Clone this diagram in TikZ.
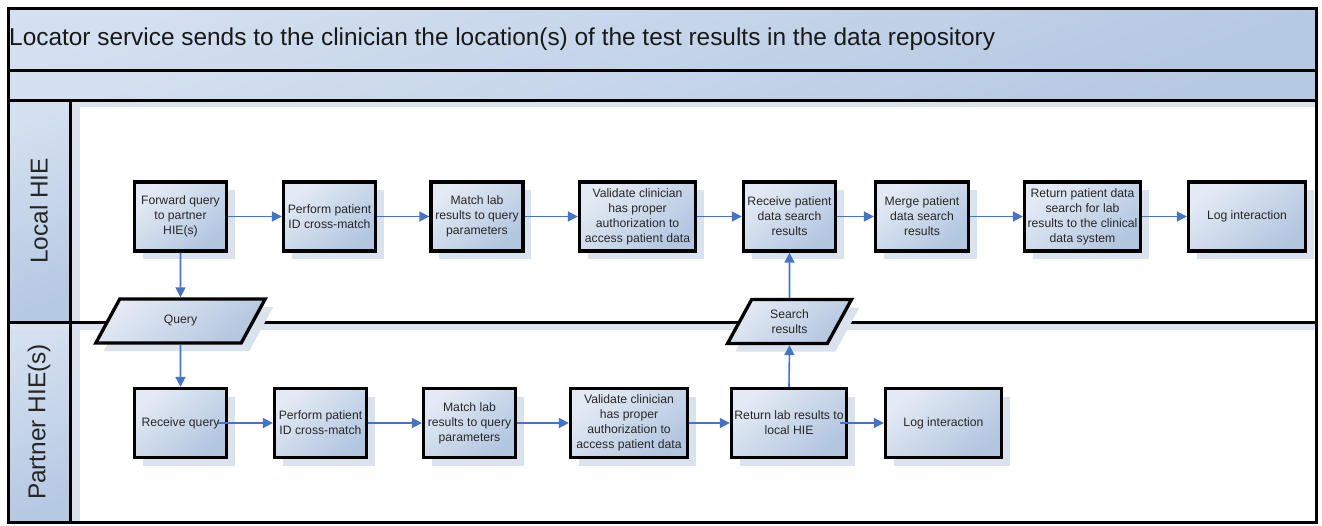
\documentclass[tikz,border=0pt]{standalone}
\usepackage{fontspec}
\setmainfont{Liberation Sans}
\usetikzlibrary{arrows.meta,shapes.geometric,shadows}

\definecolor{boxlight}{RGB}{228,234,244}
\definecolor{boxdark}{RGB}{178,198,224}
\definecolor{bandlight}{RGB}{212,224,240}
\definecolor{banddark}{RGB}{182,201,227}
\definecolor{shadecol}{RGB}{218,226,237}
\definecolor{flowcol}{RGB}{70,116,196}
\definecolor{txtcol}{RGB}{40,40,40}

\tikzset{
  boxfill/.style={top color=boxlight, bottom color=boxdark, shading angle=40},
  bandfill/.style={top color=bandlight, bottom color=banddark, shading angle=20},
  procbox/.style={boxfill, draw=black, line width=3.3pt, align=center,
    minimum height=69pt, inner sep=2pt, text=txtcol,
    font=\fontsize{12.2}{15}\selectfont,
    general shadow={fill=shadecol, shadow xshift=8pt, shadow yshift=-8pt}},
  databox/.style={procbox, trapezium, trapezium left angle=64,
    trapezium right angle=116, trapezium stretches=true, minimum height=44pt},
  flow/.style={draw=flowcol, line width=1.6pt, -{Triangle[length=10pt,width=10pt]}},
  lanelabel/.style={rotate=90, font=\fontsize{24.4}{28}\selectfont, text=black!85},
  frameline/.style={draw=black, line width=3pt}
}

\begin{document}
\begin{tikzpicture}[x=1pt,y=-1pt]
\useasboundingbox (0,0) rectangle (1322,525);
\fill[white] (0,0) rectangle (1322,525);

% header bands and lane headers
\shade[bandfill] (8,8) rectangle (1316,70);
\shade[bandfill] (8,70) rectangle (1316,100);
\shade[bandfill] (8,100) rectangle (70,322);
\shade[bandfill] (8,322) rectangle (70,522);

% soft shadows of the lane headers
\fill[shadecol] (71,101) rectangle (80,321);
\fill[shadecol] (71,101) rectangle (1315,107);
\fill[shadecol] (71,323) rectangle (80,521);
\fill[shadecol] (8,323) rectangle (1315,330);

% frame and lane separators
\draw[frameline] (8,8) rectangle (1316,522);
\draw[frameline] (8,70) -- (1316,70);
\draw[frameline] (8,100) -- (1316,100);
\draw[frameline] (70,100) -- (70,522);
\draw[frameline] (8,322) -- (1316,322);

% titles
\node[anchor=west, font=\fontsize{24.4}{28}\selectfont, text=black!90, inner sep=0pt] (title) at (9,39)
  {Locator service sends to the clinician the location(s) of the test results in the data repository};
\node[lanelabel] (lanelocal) at (39,211) {Local HIE};
\node[lanelabel] (lanepartner) at (39,422) {Partner HIE(s)};

% local HIE steps
\node[procbox, minimum width=92pt] (f1) at (180.5,216.5) {Forward query\\to partner\\HIE(s)};
\node[procbox, minimum width=92pt] (f2) at (329.5,216.5) {Perform patient\\ID cross-match};
\node[procbox, minimum width=92pt] (f3) at (477,216.5) {Match lab\\results to query\\parameters};
\node[procbox, minimum width=116pt] (f4) at (637.5,216.5) {Validate clinician\\has proper\\authorization to\\access patient data};
\node[procbox, minimum width=92pt] (f5) at (789.5,216.5) {Receive patient\\data search\\results};
\node[procbox, minimum width=93pt] (f6) at (922,216.5) {Merge patient\\data search\\results};
\node[procbox, minimum width=116pt] (f7) at (1082.5,216.5) {Return patient data\\search for lab\\results to the clinical\\data system};
\node[procbox, minimum width=117pt] (f8) at (1247,216.5) {Log interaction};

% partner HIE steps
\node[procbox, minimum width=92pt] (b1) at (180.5,423) {Receive query};
\node[procbox, minimum width=92pt] (b2) at (320.5,423) {Perform patient\\ID cross-match};
\node[procbox, minimum width=92pt] (b3) at (469.5,423) {Match lab\\results to query\\parameters};
\node[procbox, minimum width=117pt] (b4) at (629,423) {Validate clinician\\has proper\\authorization to\\access patient data};
\node[procbox, minimum width=115pt] (b5) at (789,423) {Return lab results to\\local HIE};
\node[procbox, minimum width=116pt] (b6) at (943.5,423) {Log interaction};

% exchanged data
\node[databox, minimum width=170pt] (query) at (180.5,321) {Query};
\node[databox, minimum width=124pt] (search) at (789.5,321.5) {Search\\results};

% flows in the local HIE
\draw[flow] (f1) -- (f2);
\draw[flow] (f2) -- (f3);
\draw[flow] (f3) -- (f4);
\draw[flow] (f4) -- (f5);
\draw[flow] (f5) -- (f6);
\draw[flow] (f6) -- (f7);
\draw[flow] (f7) -- (f8);

% flows in the partner HIE
\draw[flow] ([xshift=-10pt]b1.east) -- (b2.west);
\draw[flow] (b2) -- (b3);
\draw[flow] (b3) -- (b4);
\draw[flow] (b4) -- (b5);
\draw[flow] ([xshift=-8pt]b5.east) -- (b6.west);

% flows across the lanes
\draw[flow] (f1.south) -- (query.north);
\draw[flow] (query.south) -- (b1.north);
\draw[flow] (b5.north) -- (search.south);
\draw[flow] (search.north) -- (f5.south);
\end{tikzpicture}
\end{document}
